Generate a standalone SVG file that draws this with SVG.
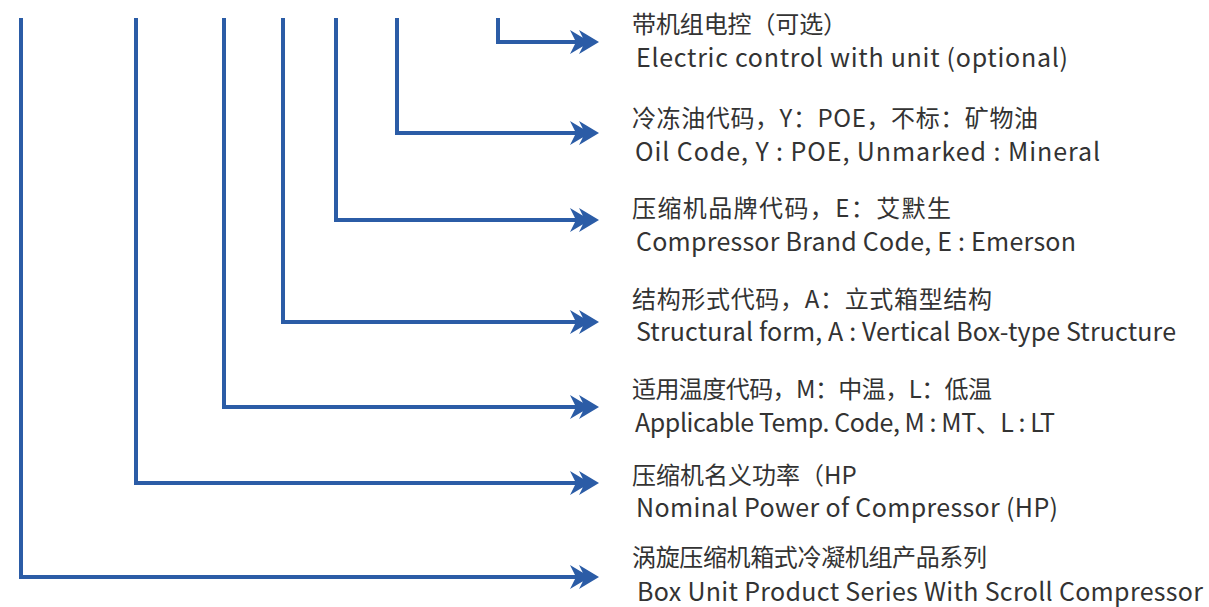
<svg xmlns="http://www.w3.org/2000/svg" width="1209" height="607" viewBox="0 0 1209 607">
<style>
.ln{fill:none;stroke:#2b5ca6;stroke-width:4;stroke-linecap:butt;stroke-linejoin:miter}
.ah{fill:#2b5ca6}
text{font-family:"Noto Sans CJK SC","Noto Sans",sans-serif;font-size:24px;fill:#333333}
text.en{font-size:25px}
</style>
<defs>
<path id="ah" class="ah" d="M0,0 L-20,-12 L-14,0 L-20,12 Z M-9,0 L-29,-12 L-23,0 L-29,12 Z"/>
</defs>
<rect width="1209" height="607" fill="#ffffff"/>
<g id="connectors">
<path class="ln" d="M498,18 V42 H580"/><use href="#ah" x="599" y="42"/>
<path class="ln" d="M397,18 V133 H580"/><use href="#ah" x="599" y="133"/>
<path class="ln" d="M336,18 V220 H580"/><use href="#ah" x="599" y="220"/>
<path class="ln" d="M283,18 V322 H580"/><use href="#ah" x="599" y="322"/>
<path class="ln" d="M224,18 V407 H580"/><use href="#ah" x="599" y="407"/>
<path class="ln" d="M136,18 V483 H580"/><use href="#ah" x="599" y="483"/>
<path class="ln" d="M21,18 V577 H580"/><use href="#ah" x="599" y="577"/>
</g>
<g id="n1"><text x="632" y="33" textLength="215" lengthAdjust="spacing">带机组电控（可选）</text><text class="en" x="636" y="67" textLength="432" lengthAdjust="spacing">Electric control with unit (optional)</text></g>
<g id="n2"><text x="632" y="127" textLength="406" lengthAdjust="spacing">冷冻油代码，Y：POE，不标：矿物油</text><text class="en" x="635" y="161" textLength="465" lengthAdjust="spacing">Oil Code, Y : POE, Unmarked : Mineral</text></g>
<g id="n3"><text x="632" y="217" textLength="319" lengthAdjust="spacing">压缩机品牌代码，E：艾默生</text><text class="en" x="636" y="251" textLength="440" lengthAdjust="spacing">Compressor Brand Code, E : Emerson</text></g>
<g id="n4"><text x="632" y="308" textLength="360" lengthAdjust="spacing">结构形式代码，A：立式箱型结构</text><text class="en" x="636" y="341" textLength="540" lengthAdjust="spacing">Structural form, A : Vertical Box-type Structure</text></g>
<g id="n5"><text x="632" y="398" textLength="360" lengthAdjust="spacing">适用温度代码，M：中温，L：低温</text><text class="en" x="635" y="432" textLength="420" lengthAdjust="spacing">Applicable Temp. Code, M : MT、L : LT</text></g>
<g id="n6"><text x="632" y="484">压缩机名义功率（HP</text><text class="en" x="636" y="517" textLength="422" lengthAdjust="spacing">Nominal Power of Compressor (HP)</text></g>
<g id="n7"><text x="632" y="566" textLength="355" lengthAdjust="spacing">涡旋压缩机箱式冷凝机组产品系列</text><text class="en" x="637" y="601" textLength="566" lengthAdjust="spacing">Box Unit Product Series With Scroll Compressor</text></g>
</svg>
